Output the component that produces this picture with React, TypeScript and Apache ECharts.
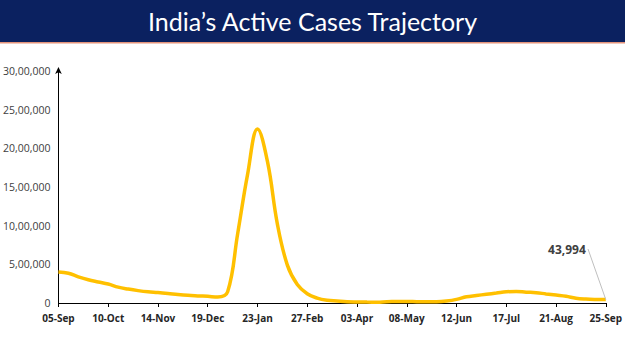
import React, { useEffect, useRef } from "react";
import * as echarts from "echarts";

const TITLE = "India\u2019s Active Cases Trajectory";

const weeks = [
  "05-Sep", "12-Sep", "19-Sep", "26-Sep", "03-Oct", "10-Oct", "17-Oct", "24-Oct", "31-Oct",
  "07-Nov", "14-Nov", "21-Nov", "28-Nov", "05-Dec", "12-Dec", "19-Dec", "26-Dec",
  "02-Jan", "09-Jan", "16-Jan", "23-Jan", "30-Jan", "06-Feb", "13-Feb", "20-Feb", "27-Feb",
  "06-Mar", "13-Mar", "20-Mar", "27-Mar", "03-Apr", "10-Apr", "17-Apr", "24-Apr",
  "01-May", "08-May", "15-May", "22-May", "29-May", "05-Jun", "12-Jun", "19-Jun", "26-Jun",
  "03-Jul", "10-Jul", "17-Jul", "24-Jul", "31-Jul", "07-Aug", "14-Aug", "21-Aug", "28-Aug",
  "04-Sep", "11-Sep", "18-Sep", "25-Sep",
];

const activeCases = [
  400000, 385000, 338000, 300000, 272000, 245000, 205000, 180000, 160000,
  145000, 136000, 124000, 110000, 99000, 92000, 86000, 78000,
  145000, 890000, 1660000, 2250000, 1830000, 1020000, 490000, 240000, 120000,
  63000, 35000, 25000, 16000, 13000, 11500, 11000, 16000,
  19000, 20000, 17000, 15000, 16000, 26000, 47000, 81000, 97000,
  113000, 128000, 145000, 149000, 140000, 134000, 117000, 102000, 87000,
  62000, 51000, 46000, 43994,
];

const yTicks = [0, 500000, 1000000, 1500000, 2000000, 2500000, 3000000];
const yTickLabels = ["0", "5,00,000", "10,00,000", "15,00,000", "20,00,000", "25,00,000", "30,00,000"];

const LAST_LABEL = "43,994";

export default function App() {
  const ref = useRef<HTMLDivElement>(null);
  useEffect(() => {
    if (!ref.current) return;
    const chart = echarts.init(ref.current, null, { renderer: "svg" });
    const lastIdx = activeCases.length - 1;
    chart.setOption({
      animation: false,
      backgroundColor: "#ffffff",
      graphic: [
        { type: "rect", shape: { x: 0, y: 0, width: 625, height: 42 }, style: { fill: "#0b2160" } },
        { type: "rect", shape: { x: 0, y: 42, width: 625, height: 1.5 }, style: { fill: "#e3937a" } },
        {
          type: "text",
          x: 312.5,
          y: 21,
          style: {
            text: TITLE,
            fill: "#ffffff",
            font: "25px Lato",
            align: "center",
            verticalAlign: "middle",
          },
        },
      ],
      grid: { left: 56, right: 18, top: 71, bottom: 48, containLabel: false },
      xAxis: {
        type: "category",
        data: weeks,
        boundaryGap: false,
        axisLine: { lineStyle: { color: "#000000", width: 1 } },
        axisTick: { show: true, interval: 4, length: 4, lineStyle: { color: "#000000" } },
        axisLabel: {
          interval: 4,
          color: "#262626",
          fontWeight: "bold",
          fontSize: 10,
          lineHeight: 11,
          fontFamily: "Open Sans",
          margin: 9,
        },
        splitLine: { show: false },
      },
      yAxis: {
        type: "value",
        min: 0,
        max: 3000000,
        interval: 500000,
        axisLine: {
          show: true,
          symbol: ["none", "arrow"],
          symbolSize: [5, 7],
          symbolOffset: [0, 4],
          lineStyle: { color: "#000000", width: 1 },
        },
        axisTick: { show: false },
        splitLine: { show: false },
        axisLabel: {
          color: "#404040",
          fontSize: 10.5,
          lineHeight: 11,
          fontFamily: "Open Sans",
          margin: 8,
          formatter: (v: number) => {
            const i = yTicks.indexOf(v);
            return i >= 0 ? yTickLabels[i] : "";
          },
        },
      },
      series: [
        {
          type: "line",
          data: activeCases,
          smooth: 0.4,
          showSymbol: false,
          lineStyle: { color: "#FFC000", width: 3.5 },
          itemStyle: { color: "#FFC000" },
          markPoint: {
            symbol: "circle",
            symbolSize: 0,
            data: [
              {
                coord: [weeks[lastIdx], activeCases[lastIdx]],
                label: {
                  show: true,
                  formatter: LAST_LABEL,
                  color: "#404040",
                  fontWeight: "bold",
                  fontSize: 12,
                  fontFamily: "Open Sans",
                  position: [-20, -50],
                  align: "right",
                  verticalAlign: "middle",
                },
              },
            ],
          },
          markLine: {
            silent: true,
            symbol: "none",
            lineStyle: { color: "#bfbfbf", width: 1, type: "solid" },
            label: { show: false },
            data: [
              [
                { coord: [weeks[lastIdx], activeCases[lastIdx]] },
                { coord: [weeks[lastIdx], activeCases[lastIdx]], x: 588, y: 249 },
              ],
            ],
          },
        },
      ],
    });
    return () => chart.dispose();
  }, []);
  return (
    <div
      ref={ref}
      style={{ position: "absolute", left: 0, top: 0, width: 625, height: 351 }}
    />
  );
}
